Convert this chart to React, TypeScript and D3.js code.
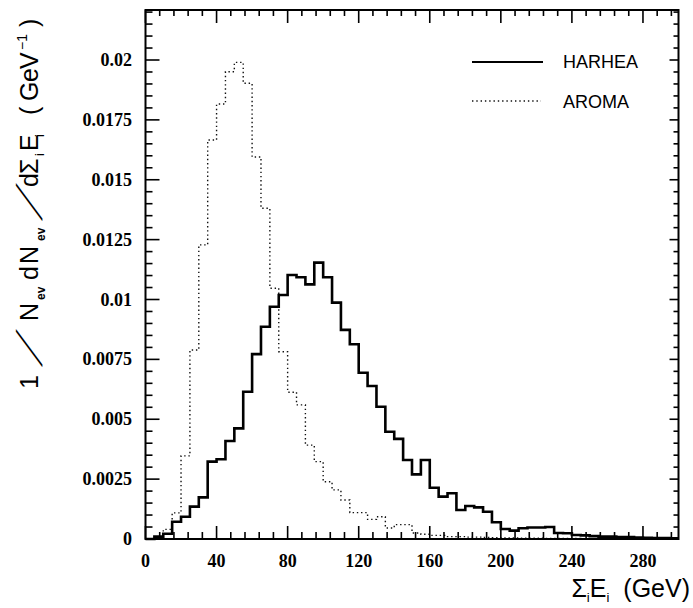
import React from 'react';
import * as d3 from 'd3';

// bin lower edges (GeV), 5 GeV bins
const binLow = d3.range(0, 300, 5);

const harhea = [
  0, 0.0001, 0.00022, 0.00072, 0.00093, 0.00135, 0.00174, 0.00323, 0.00333, 0.00409,
  0.00462, 0.00615, 0.00772, 0.00886, 0.0097, 0.01019, 0.01102, 0.01093, 0.01063, 0.01154,
  0.01093, 0.00987, 0.00873, 0.00813, 0.00694, 0.00639, 0.00552, 0.00448, 0.00418, 0.0033,
  0.0027, 0.0033, 0.00214, 0.00177, 0.00191, 0.00121, 0.00138, 0.00132, 0.00114, 0.0007,
  0.00042, 0.00035, 0.00045, 0.00048, 0.00048, 0.0005, 0.00025, 0.00024, 0.00017, 0.00015,
  0.00012, 0.0001, 0.0001, 0.00008, 0.00008, 0.00006, 0.00005, 0.00004, 0.00004, 0.00003,
];

const aroma = [
  0, 0.00005, 0.0004, 0.00109, 0.00347, 0.00789, 0.01228, 0.01666, 0.01816, 0.01951,
  0.0199, 0.01903, 0.01595, 0.01381, 0.01047, 0.00782, 0.00613, 0.0056, 0.00392, 0.00323,
  0.00239, 0.00205, 0.00163, 0.0011, 0.0011, 0.00082, 0.00093, 0.00046, 0.0006, 0.0006,
  0.00025, 0.0002, 0.00015, 0.00015, 0.0001, 0.0001, 0.00008, 0.00008, 0.00006, 0.00005,
  0.00004, 0.00004, 0.00003, 0.00003, 0.00003, 0.00002, 0.00002, 0.00002, 0.00002, 0.00001,
  0.00001, 0.00001, 0.00001, 0.00001, 0.00001, 0, 0, 0, 0, 0,
];

const xTickLabels = [0, 40, 80, 120, 160, 200, 240, 280];
const yTickLabels = ['0', '0.0025', '0.005', '0.0075', '0.01', '0.0125', '0.015', '0.0175', '0.02'];
const yTickValues = [0, 0.0025, 0.005, 0.0075, 0.01, 0.0125, 0.015, 0.0175, 0.02];
const seriesNames = ['HARHEA', 'AROMA'];

const W = 693;
const H = 608;
const X0 = 145.5;
const X1 = 678.5;
const YB = 539;
const YT = 10;

export default function App() {
  const x = d3.scaleLinear().domain([0, 300]).range([X0, X1]);
  const y = d3.scaleLinear().domain([0, 0.02]).range([YB, 60]);
  const yMax = y.invert(YT);

  const line = d3
    .line<[number, number]>()
    .x((d) => x(d[0]))
    .y((d) => y(d[1]))
    .curve(d3.curveStepAfter);

  const pts = (vals: number[]): [number, number][] => {
    const p: [number, number][] = binLow.map((b, i) => [b, vals[i]]);
    p.push([300, vals[vals.length - 1]]);
    return p;
  };

  const xMinor = d3.range(0, 301, 8);
  const yMinor = d3.range(0, Math.floor(yMax / 0.0005) + 1).map((i) => i * 0.0005);

  const sans = "'Liberation Sans', Arial, Helvetica, sans-serif";
  const serif = "'Liberation Serif', 'Times New Roman', serif";

  return (
    <svg
      width={W}
      height={H}
      style={{ position: 'absolute', left: 0, top: 0, background: '#fff' }}
    >
      <rect x={0} y={0} width={W} height={H} fill="#fff" />
      {/* histograms */}
      <path
        d={line(pts(aroma)) || ''}
        fill="none"
        stroke="#111"
        strokeWidth={1.4}
        strokeDasharray="1.4,2.8"
      />
      <path d={line(pts(harhea)) || ''} fill="none" stroke="#000" strokeWidth={2.6} />

      {/* frame */}
      <rect x={X0} y={YT} width={X1 - X0} height={YB - YT} fill="none" stroke="#000" strokeWidth={2} />

      {/* x ticks */}
      {xMinor.map((v) => {
        const major = v % 40 === 0;
        const px = x(v);
        return (
          <g key={'xt' + v}>
            <line x1={px} x2={px} y1={YB} y2={YB - (major ? 13 : 7)} stroke="#000" strokeWidth={1.6} />
            <line x1={px} x2={px} y1={YT} y2={YT + (major ? 13 : 6)} stroke="#000" strokeWidth={1.6} />
          </g>
        );
      })}
      {/* y ticks */}
      {yMinor.map((v, i) => {
        const major = i % 5 === 0;
        const py = y(v);
        return (
          <g key={'yt' + i}>
            <line x1={X0} x2={X0 + (major ? 14 : 7)} y1={py} y2={py} stroke="#000" strokeWidth={1.6} />
            <line x1={X1} x2={X1 - (major ? 9 : 5)} y1={py} y2={py} stroke="#000" strokeWidth={1.6} />
          </g>
        );
      })}

      {/* x tick labels */}
      {xTickLabels.map((v) => (
        <text
          key={'xl' + v}
          x={x(v)}
          y={567}
          textAnchor="middle"
          fontFamily={serif}
          fontWeight="bold"
          fontSize={18}
          fill="#000"
        >
          {v}
        </text>
      ))}
      {/* y tick labels */}
      {yTickValues.map((v, i) => (
        <text
          key={'yl' + i}
          x={132}
          y={y(v) + 6}
          textAnchor="end"
          fontFamily={serif}
          fontWeight="bold"
          fontSize={18}
          fill="#000"
        >
          {yTickLabels[i]}
        </text>
      ))}

      {/* legend */}
      <line x1={472} x2={543} y1={62} y2={62} stroke="#000" strokeWidth={2.2} />
      <text x={563} y={68} fontFamily={sans} fontSize={18} fill="#000">
        {seriesNames[0]}
      </text>
      <line x1={472} x2={541} y1={101} y2={101} stroke="#111" strokeWidth={1.4} strokeDasharray="1.4,2.9" />
      <text x={563} y={108} fontFamily={sans} fontSize={18} fill="#000">
        {seriesNames[1]}
      </text>

      {/* y axis title */}
      <g transform="translate(38,387) rotate(-90)" fontFamily={sans} fill="#000">
        <text fontSize={25}>
          <tspan x={-2} y={0}>1</tspan>
          <tspan x={66} y={0}>N</tspan>
          <tspan x={87} y={7} fontSize={12} fontWeight="bold">ev</tspan>
          <tspan x={107} y={0}>d</tspan>
          <tspan x={123} y={0}>N</tspan>
          <tspan x={146} y={7} fontSize={12} fontWeight="bold">ev</tspan>
          <tspan x={200} y={0}>d</tspan>
          <tspan x={213} y={0}>Σ</tspan>
          <tspan x={231} y={6} fontSize={13}>i</tspan>
          <tspan x={236} y={0}>E</tspan>
          <tspan x={250} y={6} fontSize={13}>i</tspan>
          <tspan x={272} y={0}>(</tspan>
          <tspan x={286} y={0}>G</tspan>
          <tspan x={305} y={0}>e</tspan>
          <tspan x={318} y={0}>V</tspan>
          <tspan x={337} y={-11} fontSize={14}>−1</tspan>
          <tspan x={360} y={0}>)</tspan>
        </text>
        <text transform="translate(20,4) skewX(-47)" fontSize={36}>/</text>
        <text transform="translate(166,4) skewX(-47)" fontSize={36}>/</text>
      </g>

      {/* x axis title */}
      <text x={690} y={597} textAnchor="end" fontFamily={sans} fontSize={25} fill="#000">
        <tspan>Σ</tspan>
        <tspan dy={5} fontSize={13}>i</tspan>
        <tspan dy={-5}>E</tspan>
        <tspan dy={5} fontSize={13}>i</tspan>
        <tspan dy={-5} dx={14}>(GeV)</tspan>
      </text>
    </svg>
  );
}
